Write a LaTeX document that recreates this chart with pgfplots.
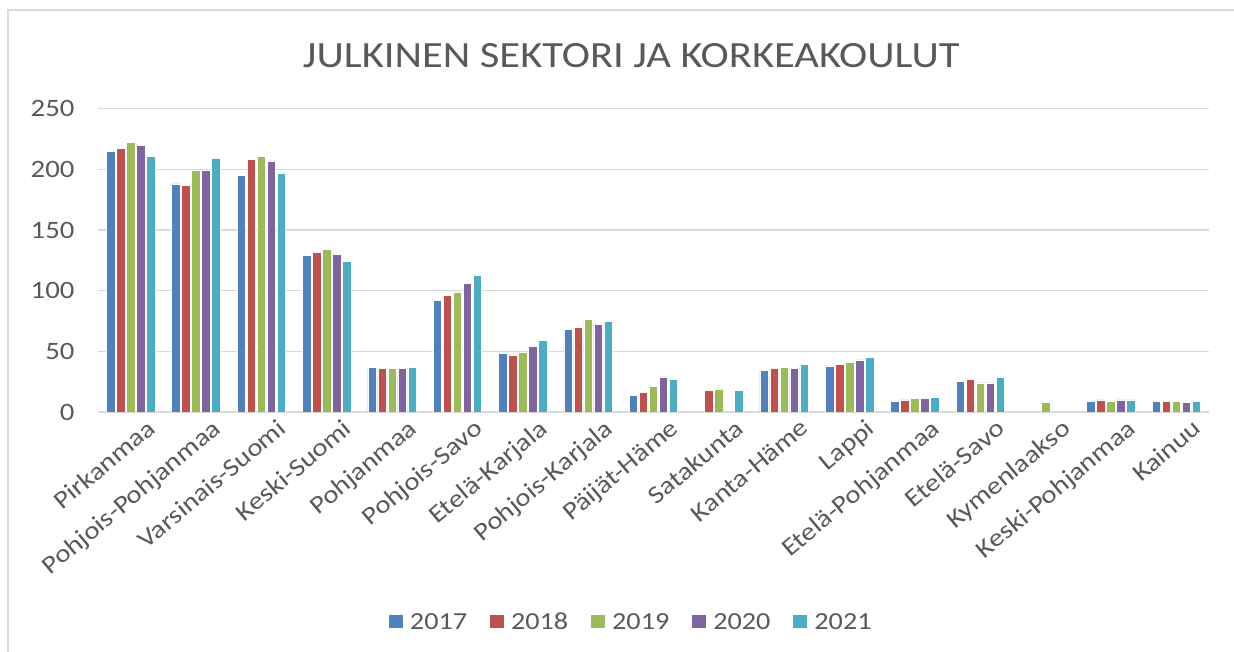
\documentclass[border=0pt]{standalone}
\usepackage{pgfplots}
\pgfplotsset{compat=1.18}
\usepackage{fontspec}
\setmainfont{Carlito}
\definecolor{c17}{HTML}{4F81BD}
\definecolor{c18}{HTML}{C0504D}
\definecolor{c19}{HTML}{9BBB59}
\definecolor{c20}{HTML}{8064A2}
\definecolor{c21}{HTML}{4BACC6}
\definecolor{txt}{HTML}{595959}
\definecolor{gridc}{HTML}{D9D9D9}
\newcommand\sx[1]{\scalebox{1.15}[1]{#1}}
\begin{document}
\begin{tikzpicture}[x=1pt,y=1pt]
\path[use as bounding box] (-98,-240) rectangle (1136,412);
\draw[gridc, line width=2pt] (-90,-240) -- (-90,402) -- (1136,402);
\begin{axis}[
  at={(0,0)}, anchor=south west,
  scale only axis, width=1111pt, height=303.3pt,
  ybar=1.5pt, bar width=8.5pt,
  xmin=-0.5, xmax=16.5, ymin=0, ymax=250,
  ytick={0,50,100,150,200,250},
  xtick={0,...,16},
  xticklabels={\sx{Pirkanmaa},\sx{Pohjois-Pohjanmaa},\sx{Varsinais-Suomi},\sx{Keski-Suomi},\sx{Pohjanmaa},\sx{Pohjois-Savo},\sx{Etelä-Karjala},\sx{Pohjois-Karjala},\sx{Päijät-Häme},\sx{Satakunta},\sx{Kanta-Häme},\sx{Lappi},\sx{Etelä-Pohjanmaa},\sx{Etelä-Savo},\sx{Kymenlaakso},\sx{Keski-Pohjanmaa},\sx{Kainuu}},
  yticklabel={\sx{\pgfmathprintnumber{\tick}}},
  axis line style={draw=none},
  major tick length=0pt, tick style={draw=none},
  xmajorgrids=false, ymajorgrids=true,
  major grid style={draw=gridc, line width=1.6pt},
  tick label style={font=\fontsize{25}{29}\selectfont, text=txt},
  /pgf/number format/assume math mode=true,
  yticklabel style={anchor=east, xshift=-20pt},
  xticklabel style={rotate=40, anchor=north east, inner sep=0pt, xshift=8pt, yshift=-14pt},
  title={\sx{JULKINEN SEKTORI JA KORKEAKOULUT}},
  title style={font=\fontsize{37}{42}\selectfont, text=txt, at={(0.48,1.155)}, anchor=center},
  legend columns=5,
  legend style={draw=none, font=\fontsize{24.5}{28}\selectfont, text=txt, at={(0.48,-0.692)}, anchor=center,
    /tikz/every odd column/.append style={column sep=5pt},
    /tikz/every even column/.append style={column sep=21pt}},
  legend image code/.code={\fill[#1,draw=none] (0pt,-6.5pt) rectangle (14pt,6.5pt);},
  every axis plot/.append style={draw=white, line width=0.6pt},
]
\addplot[fill=c17] coordinates {(0,215)(1,188)(2,195)(3,129)(4,37)(5,92)(6,48)(7,68)(8,14)(10,34)(11,38)(12,9)(13,25)(15,9)(16,9)};
\addplot[fill=c18] coordinates {(0,217)(1,187)(2,208)(3,132)(4,36)(5,96)(6,47)(7,70)(8,16)(9,18)(10,36)(11,39)(12,10)(13,27)(15,10)(16,9)};
\addplot[fill=c19] coordinates {(0,222)(1,199)(2,211)(3,134)(4,36)(5,99)(6,49)(7,76)(8,21)(9,19)(10,37)(11,41)(12,11)(13,24)(14,8)(15,9)(16,9)};
\addplot[fill=c20] coordinates {(0,220)(1,199)(2,207)(3,130)(4,36)(5,106)(6,54)(7,72)(8,29)(10,36)(11,43)(12,11)(13,24)(15,10)(16,8)};
\addplot[fill=c21] coordinates {(0,211)(1,209)(2,197)(3,124)(4,37)(5,113)(6,59)(7,75)(8,27)(9,18)(10,39)(11,45)(12,12)(13,29)(15,10)(16,9)};
\legend{\sx{2017},\sx{2018},\sx{2019},\sx{2020},\sx{2021}}
\end{axis}
\end{tikzpicture}
\end{document}
